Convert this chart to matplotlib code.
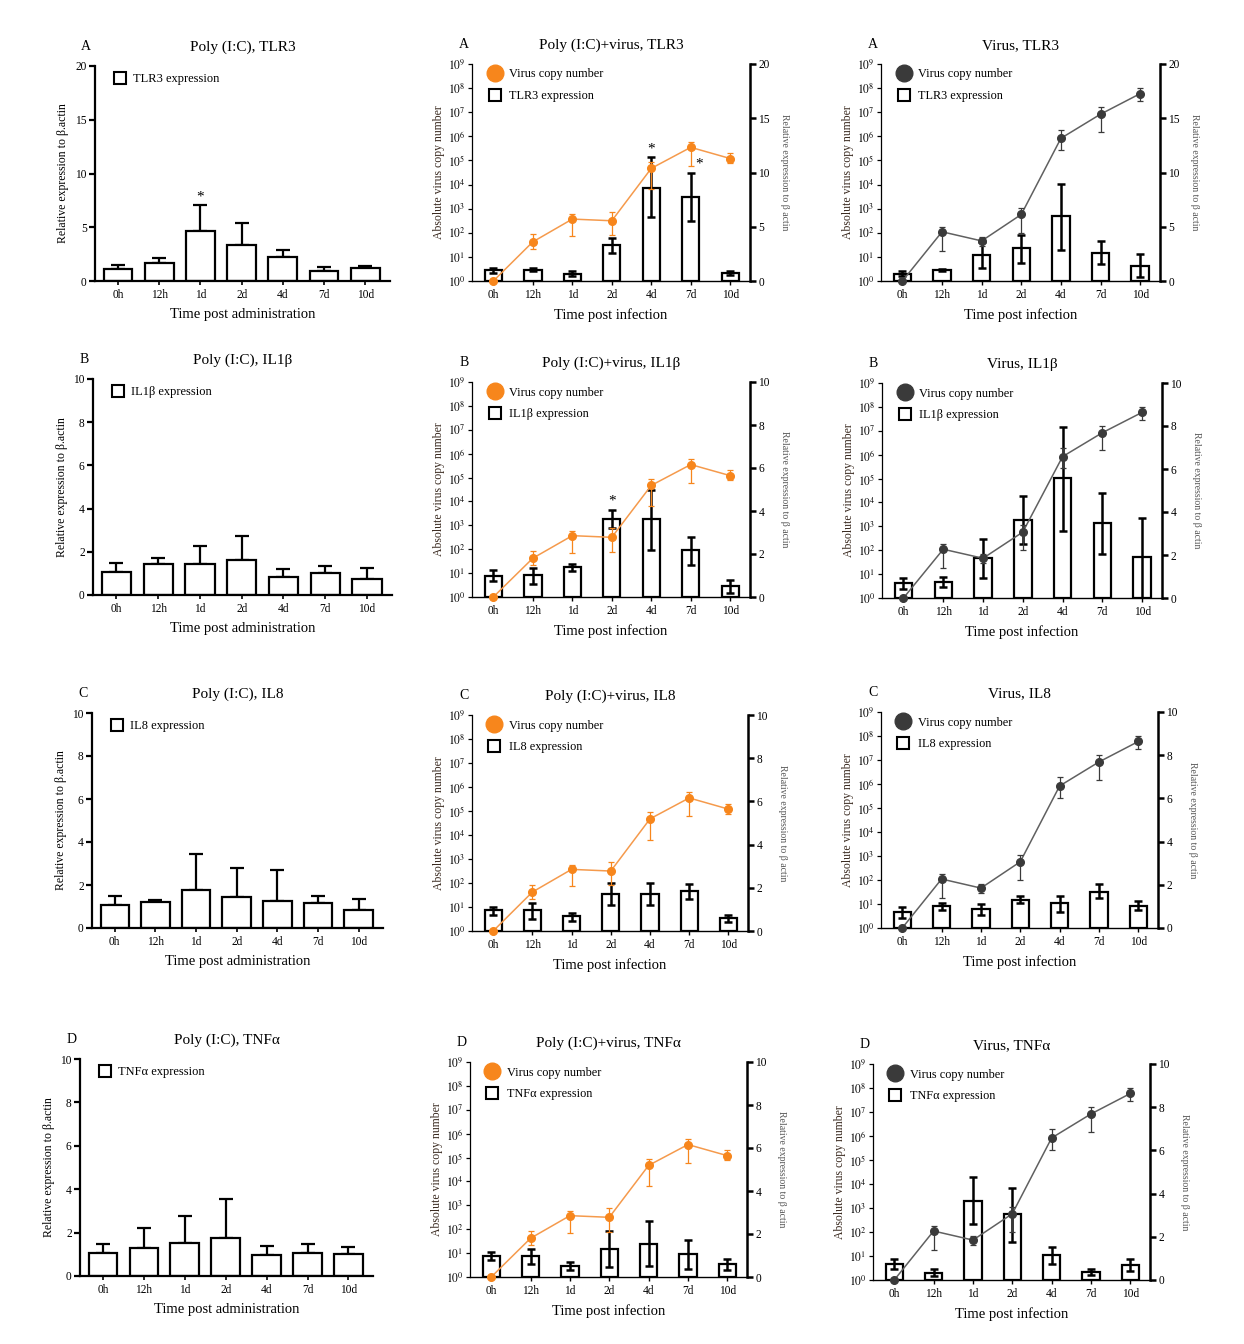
import matplotlib
matplotlib.use("Agg")
import matplotlib.pyplot as plt
import numpy as np
from matplotlib.lines import Line2D
from matplotlib.ticker import NullLocator

plt.rcParams['font.family'] = ['Liberation Serif', 'DejaVu Serif']
plt.rcParams['mathtext.fontset'] = 'stix'

tider = ["0h", "12h", "1d", "2d", "4d", "7d", "10d"]

# Virus copy number, Poly (I:C)+virus (medel, nedre, övre)
virus_poly    = [1, 42, 370, 315, 4.7e4, 3.5e5, 1.2e5]
virus_poly_lo = [1, 22, 72, 80, 6.3e3, 6e4, 7.6e4]
virus_poly_hi = [1, 85, 575, 740, 9e4, 6e5, 2e5]

# Virus copy number, bara virus
virus_only    = [1, 110, 46, 575, 8.3e5, 8.3e6, 5.9e7]
virus_only_lo = [1, 18, 28, 100, 2.7e5, 1.5e6, 2.8e7]
virus_only_hi = [1, 178, 68, 1100, 1.9e6, 1.6e7, 1.0e8]

# Poly (I:C) bara, medel och toppen av felstapeln
tlr3_poly      = [1.08, 1.7, 4.63, 3.33, 2.22, 0.93, 1.2]
tlr3_poly_top  = [1.48, 2.13, 7.04, 5.4, 2.93, 1.3, 1.39]
il1b_poly      = [1.08, 1.45, 1.45, 1.64, 0.85, 1.03, 0.74]
il1b_poly_top  = [1.5, 1.73, 2.27, 2.75, 1.2, 1.34, 1.23]
il8_poly       = [1.05, 1.19, 1.79, 1.42, 1.25, 1.14, 0.85]
il8_poly_top   = [1.47, 1.31, 3.42, 2.81, 2.7, 1.47, 1.36]
tnfa_poly      = [1.05, 1.29, 1.53, 1.76, 0.99, 1.06, 1.03]
tnfa_poly_top  = [1.46, 2.22, 2.76, 3.56, 1.39, 1.46, 1.34]

# Poly (I:C)+virus, uttryck (medel, nedre, övre)
tlr3_pv    = [0.99, 1.05, 0.68, 3.36, 8.6, 7.77, 0.74]
tlr3_pv_lo = [0.75, 0.9, 0.45, 2.6, 5.9, 5.5, 0.55]
tlr3_pv_hi = [1.2, 1.2, 0.9, 4.0, 11.4, 10.0, 0.95]
il1b_pv    = [0.96, 1.02, 1.39, 3.65, 3.62, 2.2, 0.5]
il1b_pv_lo = [0.73, 0.6, 1.22, 3.2, 2.2, 1.5, 0.19]
il1b_pv_hi = [1.27, 1.35, 1.53, 4.05, 5.0, 2.8, 0.8]
il8_pv     = [0.96, 0.99, 0.68, 1.73, 1.73, 1.85, 0.62]
il8_pv_lo  = [0.73, 0.57, 0.46, 1.19, 1.19, 1.5, 0.42]
il8_pv_hi  = [1.11, 1.3, 0.83, 2.23, 2.23, 2.19, 0.76]
tnfa_pv    = [0.96, 0.96, 0.5, 1.3, 1.53, 1.07, 0.6]
tnfa_pv_lo = [0.78, 0.6, 0.31, 0.45, 0.5, 0.37, 0.31]
tnfa_pv_hi = [1.15, 1.32, 0.68, 2.12, 2.59, 1.74, 0.85]

# Bara virus, uttryck (medel, nedre, övre)
tlr3_v    = [0.68, 0.99, 2.43, 3.0, 5.98, 2.62, 1.42]
tlr3_v_lo = [0.45, 0.89, 1.23, 1.66, 2.84, 1.6, 0.37]
tlr3_v_hi = [0.95, 1.09, 3.6, 4.28, 8.94, 3.7, 2.47]
il1b_v    = [0.7, 0.75, 1.87, 3.63, 5.56, 3.5, 1.92]
il1b_v_lo = [0.42, 0.5, 0.93, 2.52, 3.12, 2.06, 0.0]
il1b_v_hi = [0.93, 0.97, 2.73, 4.75, 7.94, 4.9, 3.74]
il8_v     = [0.74, 1.0, 0.88, 1.31, 1.15, 1.66, 1.03]
il8_v_lo  = [0.46, 0.82, 0.62, 1.15, 0.72, 1.38, 0.85]
il8_v_hi  = [0.97, 1.15, 1.11, 1.46, 1.49, 2.05, 1.23]
tnfa_v    = [0.75, 0.34, 3.65, 3.07, 1.16, 0.37, 0.69]
tnfa_v_lo = [0.49, 0.18, 2.57, 1.77, 0.75, 0.22, 0.42]
tnfa_v_hi = [0.99, 0.49, 4.76, 4.27, 1.53, 0.49, 0.96]

ORANGE = '#F7861C'
ORANGE_LINJE = '#F59A4C'
GRA = '#3a3a3a'
GRA_LINJE = '#606060'

W, H = 1244, 1344
fig = plt.figure(figsize=(W / 100, H / 100), dpi=100)


def pos(x0, y0, x1, y1):
    """Pixelkoordinater till figurkoordinater."""
    return [x0 / W, 1 - y1 / H, (x1 - x0) / W, (y1 - y0) / H]


def plotta_poly(ruta, bokstav, titel, gen, varden, topp, ymax, steg, stjarna=None):
    ax = fig.add_axes(pos(*ruta))
    x = np.arange(len(tider))
    v = np.array(varden)
    ax.bar(x, v, width=0.7, color='white', edgecolor='black', linewidth=1.6, zorder=2)
    ax.errorbar(x, v, yerr=[np.zeros(len(v)), np.array(topp) - v], fmt='none',
                ecolor='black', elinewidth=1.6, capsize=5, capthick=1.6, zorder=1)
    ax.set_xlim(-0.56, 6.6)
    ax.set_ylim(0, ymax)
    ax.set_yticks(np.arange(0, ymax + 0.1, steg))
    ax.set_xticks(x)
    ax.set_xticklabels(tider)
    for s in ['top', 'right']:
        ax.spines[s].set_visible(False)
    for s in ['left', 'bottom']:
        ax.spines[s].set_linewidth(1.6)
    ax.tick_params(axis='y', length=4, width=1.6, labelsize=8.3, pad=2)
    ax.tick_params(axis='x', length=3, width=1.2, labelsize=8.3, pad=3)
    ax.set_ylabel('Relative expression to β.actin', fontsize=8.5, labelpad=4)
    ax.set_xlabel('Time post administration', fontsize=10.5, labelpad=5)
    ax.set_title(titel, fontsize=11, pad=11)
    ax.text(-0.03, 1.075, bokstav, transform=ax.transAxes, fontsize=10, ha='center')
    if stjarna is not None:
        ax.text(stjarna, topp[stjarna] + ymax * 0.01, '*', ha='center', va='bottom', fontsize=11)
    h = [Line2D([], [], marker='s', ls='none', mfc='white', mec='black', mew=1.5, ms=8)]
    ax.legend(h, [gen + ' expression'], loc='upper left', bbox_to_anchor=(0.02, 1.02),
              frameon=False, fontsize=9, handletextpad=0.5, handlelength=1.2)


def plotta_virus(ruta, bokstav, titel, gen, virus, vlo, vhi, vfarg, lfarg,
                 varden, lo, hi, ymax, steg, stjarnor=()):
    ax = fig.add_axes(pos(*ruta))
    ax2 = ax.twinx()
    ax.set_zorder(ax2.get_zorder() + 1)
    ax.patch.set_visible(False)
    x = np.arange(len(tider))

    v = np.array(varden)
    ax2.bar(x, v, width=0.44, color='white', edgecolor='black', linewidth=1.6, zorder=2)
    ax2.errorbar(x, v, yerr=[v - np.array(lo), np.array(hi) - v], fmt='none',
                 ecolor='black', elinewidth=1.8, capsize=3, capthick=1.8, zorder=3)
    ax2.set_ylim(0, ymax)
    ax2.set_yticks(np.arange(0, ymax + 0.1, steg))
    ax2.tick_params(axis='y', length=4, width=1.8, labelsize=8.3, pad=2)
    for s in ['top', 'left', 'bottom']:
        ax2.spines[s].set_visible(False)
    ax2.spines['right'].set_linewidth(1.8)
    ax2.set_ylabel('Relative expression to β actin', fontsize=7, rotation=270,
                   labelpad=14, color='#555555')
    for i in stjarnor:
        ax2.text(i + (0.22 if i == 5 else 0), hi[i] + ymax * 0.01, '*',
                 ha='center', va='bottom', fontsize=11)

    vv = np.array(virus)
    ax.plot(x, vv, color=lfarg, lw=1.1, marker='o', ms=5.5, mfc=vfarg, mec=vfarg,
            clip_on=False, zorder=4)
    ax.errorbar(x, vv, yerr=[vv - np.array(vlo), np.array(vhi) - vv], fmt='none',
                ecolor=vfarg, elinewidth=0.9, capsize=2.5, capthick=0.9, zorder=4)
    ax.set_yscale('log')
    ax.set_ylim(1, 1e9)
    ax.set_yticks([10 ** i for i in range(10)])
    ax.set_yticklabels(['$10^{%d}$' % i for i in range(10)])
    ax.yaxis.set_minor_locator(NullLocator())
    ax.set_xlim(-0.54, 6.5)
    ax.set_xticks(x)
    ax.set_xticklabels(tider)
    for s in ['top', 'right']:
        ax.spines[s].set_visible(False)
    ax.spines['left'].set_linewidth(0.9)
    ax.spines['bottom'].set_linewidth(1.0)
    ax.tick_params(axis='y', length=3, width=0.9, labelsize=8.3, pad=2)
    ax.tick_params(axis='x', length=3, width=1.0, labelsize=8.3, pad=3)
    ax.set_ylabel('Absolute virus copy number', fontsize=8.5, labelpad=2, color='#3a2a20')
    ax.set_xlabel('Time post infection', fontsize=10.5, labelpad=5)
    ax.set_title(titel, fontsize=11, pad=11)
    ax.text(-0.03, 1.075, bokstav, transform=ax.transAxes, fontsize=10, ha='center')
    h = [Line2D([], [], marker='o', ls='none', mfc=vfarg, mec=vfarg, ms=12),
         Line2D([], [], marker='s', ls='none', mfc='white', mec='black', mew=1.5, ms=8)]
    ax.legend(h, ['Virus copy number', gen + ' expression'], loc='upper left',
              bbox_to_anchor=(0.015, 1.03), frameon=False, fontsize=8.8,
              handletextpad=0.6, handlelength=1.2, labelspacing=0.8)


# Kolumn 1: Poly (I:C)
plotta_poly((95, 66, 390, 281), 'A', 'Poly (I:C), TLR3', 'TLR3', tlr3_poly, tlr3_poly_top, 20, 5, stjarna=2)
plotta_poly((93, 379, 392, 595), 'B', 'Poly (I:C), IL1β', 'IL1β', il1b_poly, il1b_poly_top, 10, 2)
plotta_poly((92, 713, 383, 928), 'C', 'Poly (I:C), IL8', 'IL8', il8_poly, il8_poly_top, 10, 2)
plotta_poly((80, 1059, 373, 1276), 'D', 'Poly (I:C), TNFα', 'TNFα', tnfa_poly, tnfa_poly_top, 10, 2)

# Kolumn 2: Poly (I:C)+virus
plotta_virus((472, 64, 750, 281), 'A', 'Poly (I:C)+virus, TLR3', 'TLR3',
             virus_poly, virus_poly_lo, virus_poly_hi, ORANGE, ORANGE_LINJE,
             tlr3_pv, tlr3_pv_lo, tlr3_pv_hi, 20, 5, stjarnor=(4, 5))
plotta_virus((472, 382, 750, 597), 'B', 'Poly (I:C)+virus, IL1β', 'IL1β',
             virus_poly, virus_poly_lo, virus_poly_hi, ORANGE, ORANGE_LINJE,
             il1b_pv, il1b_pv_lo, il1b_pv_hi, 10, 2, stjarnor=(3,))
plotta_virus((472, 715, 748, 931), 'C', 'Poly (I:C)+virus, IL8', 'IL8',
             virus_poly, virus_poly_lo, virus_poly_hi, ORANGE, ORANGE_LINJE,
             il8_pv, il8_pv_lo, il8_pv_hi, 10, 2)
plotta_virus((470, 1062, 747, 1277), 'D', 'Poly (I:C)+virus, TNFα', 'TNFα',
             virus_poly, virus_poly_lo, virus_poly_hi, ORANGE, ORANGE_LINJE,
             tnfa_pv, tnfa_pv_lo, tnfa_pv_hi, 10, 2)

# Kolumn 3: bara virus
plotta_virus((881, 64, 1160, 281), 'A', 'Virus, TLR3', 'TLR3',
             virus_only, virus_only_lo, virus_only_hi, GRA, GRA_LINJE,
             tlr3_v, tlr3_v_lo, tlr3_v_hi, 20, 5)
plotta_virus((882, 383, 1162, 598), 'B', 'Virus, IL1β', 'IL1β',
             virus_only, virus_only_lo, virus_only_hi, GRA, GRA_LINJE,
             il1b_v, il1b_v_lo, il1b_v_hi, 10, 2)
plotta_virus((881, 712, 1158, 928), 'C', 'Virus, IL8', 'IL8',
             virus_only, virus_only_lo, virus_only_hi, GRA, GRA_LINJE,
             il8_v, il8_v_lo, il8_v_hi, 10, 2)
plotta_virus((873, 1064, 1150, 1280), 'D', 'Virus, TNFα', 'TNFα',
             virus_only, virus_only_lo, virus_only_hi, GRA, GRA_LINJE,
             tnfa_v, tnfa_v_lo, tnfa_v_hi, 10, 2)

fig.savefig('out.png', dpi=100)
